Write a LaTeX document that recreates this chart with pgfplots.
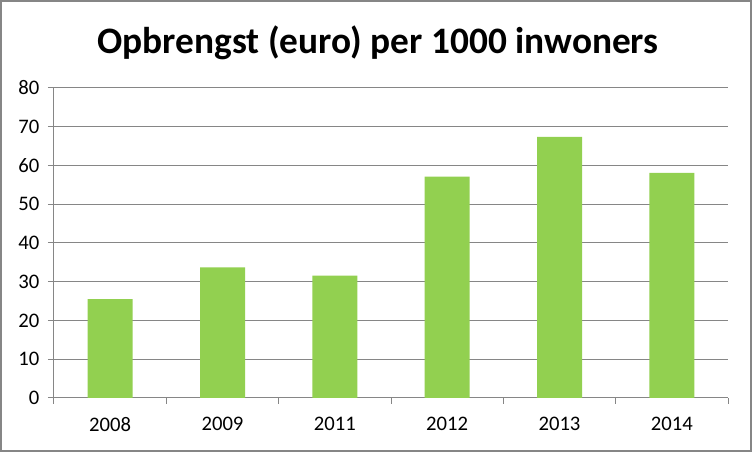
\documentclass[border=0pt]{standalone}
\usepackage{pgfplots}
\pgfplotsset{compat=1.18}
\usepackage{fontspec}
\setmainfont{Carlito}
\definecolor{bargreen}{HTML}{92D050}
\definecolor{gridgray}{HTML}{868686}
\begin{document}
\begin{tikzpicture}[x=1pt,y=1pt]
\path[use as bounding box] (0,0) rectangle (564,339);
\draw[gridgray,line width=1.5pt] (0.75,0.75) rectangle (563.25,338.25);
\node[anchor=base,font=\fontsize{28}{32}\selectfont\bfseries] at (283.5,299) {Opbrengst (euro) per 1000 inwoners};
\begin{axis}[
  at={(40.5pt,40.5pt)}, anchor=south west,
  scale only axis, width=505.5pt, height=232.5pt,
  xmin=-0.5, xmax=5.5, ymin=0, ymax=80,
  axis lines=left, axis line style={-, gridgray, line width=0.75pt},
  ytick={0,10,...,80},
  xtick={0,1,2,3,4,5},
  xticklabels={2008,2009,2011,2012,2013,2014},
  minor xtick={-0.5,0.5,1.5,2.5,3.5,4.5,5.5},
  tick align=outside,
  major x tick style={draw=none},
  minor x tick style={gridgray, line width=0.75pt},
  major tick length=4.5pt, minor tick length=4.5pt,
  y tick style={gridgray, line width=0.75pt},
  ymajorgrids, grid style={gridgray, line width=0.75pt},
  /pgf/number format/assume math mode=true,
  ticklabel style={font=\fontsize{15.5}{17}\selectfont},
  yticklabel style={xshift=-3pt},
  xticklabel style={yshift=-6.5pt},
  clip=false,
]
\addplot[ybar, bar width=33.75pt, fill=bargreen, draw=none] coordinates {
(0,25.5) (1,33.7) (2,31.6) (3,57.1) (4,67.4) (5,58.1)};
\end{axis}
\end{tikzpicture}
\end{document}
